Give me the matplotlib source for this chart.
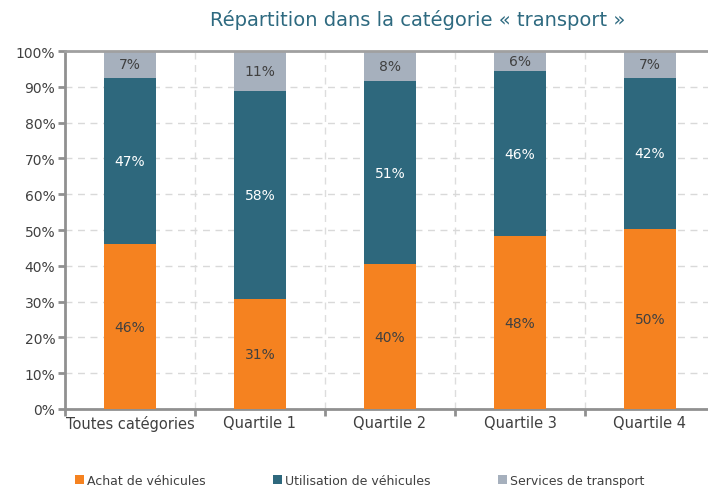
import numpy as np
import matplotlib.pyplot as plt
from matplotlib.ticker import FuncFormatter

# Donnees (en %)
categories = ['Toutes catégories', 'Quartile 1', 'Quartile 2', 'Quartile 3', 'Quartile 4']
achat = [46.0, 30.6, 40.4, 48.3, 50.2]
utilisation = [46.6, 58.3, 51.2, 46.1, 42.4]
services = [7.4, 11.1, 8.4, 5.6, 7.4]
series_names = ['Achat de véhicules', 'Utilisation de véhicules', 'Services de transport']

c_orange = '#F58220'
c_teal = '#2E687D'
c_gray = '#A6B0BD'
c_text = '#404040'

fig = plt.figure(figsize=(7.08, 4.89), dpi=100)
ax = fig.add_axes([0.0918, 0.1616, 0.918, 0.732])

x = np.arange(len(categories))
w = 0.4
b1 = ax.bar(x, achat, w, color=c_orange, label=series_names[0], zorder=3)
bottom2 = np.array(achat)
b2 = ax.bar(x, utilisation, w, bottom=bottom2, color=c_teal, label=series_names[1], zorder=3)
bottom3 = bottom2 + np.array(utilisation)
b3 = ax.bar(x, services, w, bottom=bottom3, color=c_gray, label=series_names[2], zorder=3)

# etiquettes des valeurs
for bars, vals, bots, col in [(b1, achat, np.zeros(len(x)), c_text),
                              (b2, utilisation, bottom2, 'white'),
                              (b3, services, bottom3, c_text)]:
    for i, v in enumerate(vals):
        ax.text(x[i], bots[i] + v / 2, '%d%%' % round(v), ha='center', va='center',
                color=col, fontsize=10, zorder=4)

ax.set_xlim(-0.5, len(categories) - 0.5)
ax.set_ylim(0, 100)
ax.set_yticks(np.arange(0, 101, 10))
ax.yaxis.set_major_formatter(FuncFormatter(lambda v, p: '%d%%' % v))
ax.set_xticks(x)
ax.set_xticklabels(categories)
ax.set_xticks(np.arange(-0.5, len(categories), 1), minor=True)

# grille en tirets
ax.grid(axis='y', which='major', color='#D9D9D9', linestyle=(0, (5, 4)), linewidth=1, zorder=0)
ax.grid(axis='x', which='minor', color='#DDDDDD', linestyle=(0, (5, 4)), linewidth=1, zorder=0)
ax.axhline(100, color='#A0A0A0', linewidth=2, zorder=5, clip_on=False)

for s in ['right', 'top']:
    ax.spines[s].set_visible(False)
for s in ['left', 'bottom']:
    ax.spines[s].set_color('#909090')
    ax.spines[s].set_linewidth(2)

ax.tick_params(axis='x', which='major', length=0, pad=4, labelsize=10.5, labelcolor=c_text)
ax.tick_params(axis='x', which='minor', length=5, width=2, color='#909090', direction='out')
ax.tick_params(axis='y', length=5, width=2, color='#909090', labelsize=10, labelcolor=c_text, pad=2)

fig.suptitle('Répartition dans la catégorie « transport »', x=0.59, y=0.98,
             fontsize=14, color='#2E6A80')

fig.legend(handles=[b1, b2, b3], labels=series_names, loc='center left',
           bbox_to_anchor=(0.106, 0.016), ncol=3, frameon=False, fontsize=9,
           handlelength=0.7, handleheight=0.7, handletextpad=0.25, columnspacing=5.4,
           labelcolor=c_text, borderpad=0, borderaxespad=0)

fig.savefig('out.png', dpi=100)
